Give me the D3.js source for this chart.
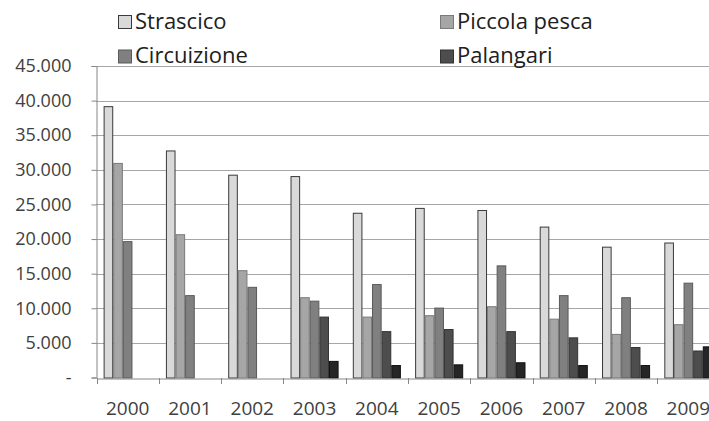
<!DOCTYPE html>
<html><head><meta charset="utf-8">
<script src="https://cdn.jsdelivr.net/npm/d3@7"></script>
<style>body{margin:0;background:#fff;}svg{display:block;}</style>
</head><body>
<svg id="c" width="709" height="421"></svg>
<script>
const years = ["2000","2001","2002","2003","2004","2005","2006","2007","2008","2009"];
const seriesNames = ["Strascico","Piccola pesca","Circuizione","Palangari","Altro"];
const strascico = [39200,32800,29300,29100,23800,24500,24200,21800,18900,19500];
const piccolaPesca = [31000,20700,15500,11600,8800,9000,10300,8500,6300,7700];
const circuizione = [19700,11900,13100,11100,13500,10100,16200,11900,11600,13700];
const palangari = [null,null,null,8800,6700,7000,6700,5800,4400,3900];
const altro = [null,null,null,2400,1800,1900,2200,1800,1800,4500];
const yTicks = [0,5000,10000,15000,20000,25000,30000,35000,40000,45000];
const legendNames = ["Strascico","Piccola pesca","Circuizione","Palangari"];

(function(){
const values = [strascico, piccolaPesca, circuizione, palangari, altro];
const fills = ["#d9d9d9","#a6a6a6","#808080","#4d4d4d","#262626"];
const strokes = ["#3a3a3a","#7a7a7a","#5a5a5a","#333333","#111111"];

const svg = d3.select("#c");
const pLeft = 96.5, pBottom = 377.5, pTop = 66;
const x0 = d3.scaleBand().domain(years).range([pLeft, pLeft + 62.3*10]).paddingInner(0).paddingOuter(0);
const x1 = d3.scaleBand().domain(seriesNames).range([0, x0.bandwidth()]).paddingInner(0).paddingOuter(0.74);
const y = d3.scaleLinear().domain([0,45000]).range([pBottom, pTop]);

const fmt = v => v === 0 ? "-" : d3.format(",")(v).replace(/,/g, ".");
const font = "'Open Sans', sans-serif";

svg.append("g").selectAll("line").data(yTicks.slice(1)).join("line")
  .attr("x1", 96).attr("x2", 709)
  .attr("y1", d => Math.round(y(d))+0.5).attr("y2", d => Math.round(y(d))+0.5)
  .attr("stroke", "#a6a6a6").attr("stroke-width", 1);

const yAxis = d3.axisLeft(y).tickValues(yTicks).tickFormat(fmt).tickSize(5).tickPadding(20);
const gy = svg.append("g").attr("transform", `translate(96.5,0)`).call(yAxis);
gy.select(".domain").attr("stroke", "#868686");
gy.selectAll(".tick line").attr("stroke", "#868686");
gy.selectAll(".tick text").attr("font-family", font).attr("font-size", 18).attr("fill", "#404040");

years.forEach((yr, i) => {
  seriesNames.forEach((s, j) => {
    const v = values[j][i];
    if (v == null) return;
    svg.append("rect")
      .attr("x", x0(yr) + x1(s) + 0.5)
      .attr("y", y(v) + 0.5)
      .attr("width", x1.bandwidth() - 1)
      .attr("height", pBottom - y(v))
      .attr("fill", fills[j]).attr("stroke", strokes[j]).attr("stroke-width", 1);
  });
});

const xAxis = d3.axisBottom(x0).tickSize(0).tickPadding(23);
const gx = svg.append("g").attr("transform", `translate(0,${Math.round(pBottom)+0.5})`).call(xAxis);
gx.select(".domain").attr("stroke", "#868686");
gx.selectAll(".tick text").attr("font-family", font).attr("font-size", 19).attr("fill", "#404040");
svg.append("g").selectAll("line").data(years).join("line")
  .attr("x1", d => Math.round(x0(d))+0.5).attr("x2", d => Math.round(x0(d))+0.5)
  .attr("y1", Math.round(pBottom)).attr("y2", Math.round(pBottom)+6)
  .attr("stroke", "#868686");

const legPos = [[118,28.5],[440,28.5],[118,63],[440,63]];
legendNames.forEach((n, k) => {
  const [lx, ly] = legPos[k];
  svg.append("rect").attr("x", lx+0.5).attr("y", ly-13).attr("width", 13).attr("height", 13)
    .attr("fill", fills[k]).attr("stroke", strokes[k]);
  svg.append("text").attr("x", lx+17).attr("y", ly)
    .attr("font-family", font).attr("font-size", 22).attr("fill", "#202020").text(n);
});
})();
</script>
</body></html>
